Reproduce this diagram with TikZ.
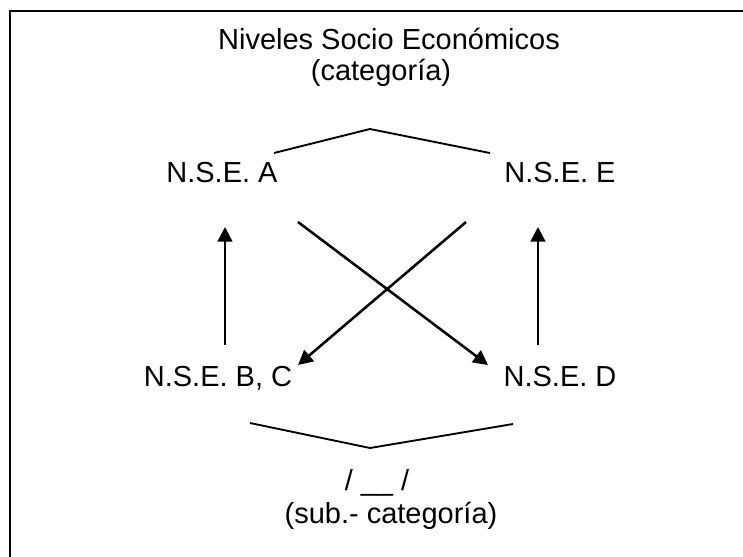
\documentclass[tikz,border=0pt]{standalone}
\usepackage{fontspec}
\setmainfont{Liberation Sans}
\usetikzlibrary{arrows.meta}

\begin{document}
\begin{tikzpicture}[x=0.75pt,y=-0.75pt,
        every node/.style={font=\fontsize{21.75}{26}\selectfont, inner sep=0pt, anchor=base},
        flecha/.style={line width=1.9pt, -{Triangle[length=11pt,width=11pt]}},
        pico/.style={line width=1.4pt}]
    \useasboundingbox (0,0) rectangle (743,557);
    \draw[line width=2pt] (10,557) -- (10,11) -- (743,11);

    % textos
    \node (titulo) at (389,49) {Niveles Socio Económicos};
    \node (cat) at (381,80) {(categoría)};
    \node (nsea) at (222,182) {N.S.E. A};
    \node (nsee) at (560,182) {N.S.E. E};
    \node (nsebc) at (218,386) {N.S.E. B, C};
    \node (nsed) at (560,386) {N.S.E. D};
    \node (barra) at (377,490) {/ \_\_ /};
    \node (subcat) at (391,523) {(sub.- categoría)};

    % extremos
    \coordinate (cimaI) at (274,153);
    \coordinate (cima) at (370,129);
    \coordinate (cimaD) at (490,153);
    \coordinate (baseI) at (250,423);
    \coordinate (base) at (370,448);
    \coordinate (baseD) at (513,424);

    \coordinate (aSur) at (225,227);
    \coordinate (bcNorte) at (225,345);
    \coordinate (eSur) at (538,227);
    \coordinate (dNorte) at (538,345);
    \coordinate (aSale) at (298,222);
    \coordinate (dLlega) at (488,365);
    \coordinate (eSale) at (466,222);
    \coordinate (bcLlega) at (298,365);

    \draw[pico] (cimaI) -- (cima) -- (cimaD);
    \draw[pico] (baseI) -- (base) -- (baseD);

    \draw[flecha] (bcNorte) -- (aSur);
    \draw[flecha] (dNorte) -- (eSur);
    \draw[flecha] (aSale) -- (dLlega);
    \draw[flecha] (eSale) -- (bcLlega);
\end{tikzpicture}
\end{document}
